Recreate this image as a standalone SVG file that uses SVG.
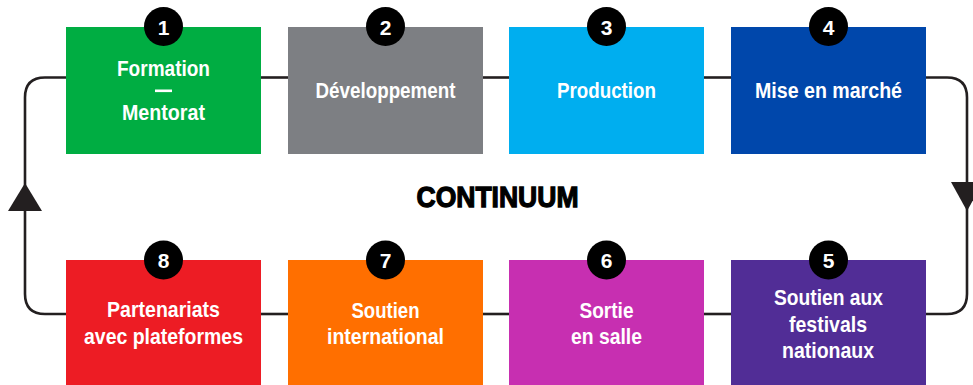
<svg xmlns="http://www.w3.org/2000/svg" width="973" height="385" viewBox="0 0 973 385">
<style>
.lbl{font-family:"Liberation Sans",Arial,sans-serif;font-weight:bold;font-size:22px;fill:#ffffff;text-anchor:middle}
.num{font-family:"Liberation Sans",Arial,sans-serif;font-weight:bold;font-size:21px;fill:#ffffff;text-anchor:middle}
.badge{fill:#000000}
.conn{fill:none;stroke:#231f20;stroke-width:2.6}
.head{fill:#231f20}
.title{font-family:"Liberation Sans",Arial,sans-serif;font-weight:bold;font-size:30px;fill:#000000;stroke:#000000;stroke-width:1.3;text-anchor:middle}
</style>
<rect width="973" height="385" fill="#ffffff"/>
<g id="connectors">
<path class="conn" d="M261 77.5 H288"/>
<path class="conn" d="M483 77.5 H509"/>
<path class="conn" d="M704 77.5 H731"/>
<path class="conn" d="M926 77.5 H947 Q967 77.5 967 97.5 V294 Q967 314 947 314 H926"/>
<path class="conn" d="M731 314 H704"/>
<path class="conn" d="M509 314 H483"/>
<path class="conn" d="M288 314 H261"/>
<path class="conn" d="M66 314 H45 Q25 314 25 294 V97.5 Q25 77.5 45 77.5 H66"/>
<polygon class="head" points="951,182 983,182 967,211"/>
<polygon class="head" points="25,183 42,211 8,211"/>
</g>
<g id="node1">
<rect x="66" y="27" width="195" height="127" fill="#00ad42"/>
<circle class="badge" cx="163.5" cy="26.5" r="19.5"/>
<text class="num" x="163.5" y="34.5">1</text>
<text class="lbl" x="163.5" y="76" textLength="93" lengthAdjust="spacingAndGlyphs">Formation</text>
<rect x="155" y="89.5" width="17" height="2.6" fill="#ffffff"/>
<text class="lbl" x="163.5" y="119.5" textLength="83" lengthAdjust="spacingAndGlyphs">Mentorat</text>
</g>
<g id="node2">
<rect x="288" y="27" width="195" height="127" fill="#7d7f83"/>
<circle class="badge" cx="385.5" cy="26.5" r="19.5"/>
<text class="num" x="385.5" y="34.5">2</text>
<text class="lbl" x="385.5" y="97.5" textLength="140" lengthAdjust="spacingAndGlyphs">Développement</text>
</g>
<g id="node3">
<rect x="509" y="27" width="195" height="127" fill="#00aeef"/>
<circle class="badge" cx="606.5" cy="26.5" r="19.5"/>
<text class="num" x="606.5" y="34.5">3</text>
<text class="lbl" x="606.5" y="97.5" textLength="99" lengthAdjust="spacingAndGlyphs">Production</text>
</g>
<g id="node4">
<rect x="731" y="27" width="195" height="127" fill="#0047ab"/>
<circle class="badge" cx="828.5" cy="26.5" r="19.5"/>
<text class="num" x="828.5" y="34.5">4</text>
<text class="lbl" x="828.5" y="97.5" textLength="147" lengthAdjust="spacingAndGlyphs">Mise en marché</text>
</g>
<g id="node5">
<rect x="731" y="260" width="195" height="125" fill="#512d96"/>
<circle class="badge" cx="828.5" cy="260" r="19.5"/>
<text class="num" x="828.5" y="268">5</text>
<text class="lbl" x="828.5" y="304.5" textLength="109" lengthAdjust="spacingAndGlyphs">Soutien aux</text>
<text class="lbl" x="828" y="331.5" textLength="78" lengthAdjust="spacingAndGlyphs">festivals</text>
<text class="lbl" x="828" y="357.5" textLength="92" lengthAdjust="spacingAndGlyphs">nationaux</text>
</g>
<g id="node6">
<rect x="509" y="260" width="195" height="125" fill="#c72fb1"/>
<circle class="badge" cx="606.5" cy="260" r="19.5"/>
<text class="num" x="606.5" y="268">6</text>
<text class="lbl" x="606.5" y="317.5" textLength="54" lengthAdjust="spacingAndGlyphs">Sortie</text>
<text class="lbl" x="606.5" y="344" textLength="71" lengthAdjust="spacingAndGlyphs">en salle</text>
</g>
<g id="node7">
<rect x="288" y="260" width="195" height="125" fill="#ff6f00"/>
<circle class="badge" cx="385.5" cy="260" r="19.5"/>
<text class="num" x="385.5" y="268">7</text>
<text class="lbl" x="385.5" y="317.5" textLength="68" lengthAdjust="spacingAndGlyphs">Soutien</text>
<text class="lbl" x="385.5" y="344" textLength="117" lengthAdjust="spacingAndGlyphs">international</text>
</g>
<g id="node8">
<rect x="66" y="260" width="195" height="125" fill="#ed1c24"/>
<circle class="badge" cx="163.5" cy="260" r="19.5"/>
<text class="num" x="163.5" y="268">8</text>
<text class="lbl" x="163.5" y="317" textLength="113" lengthAdjust="spacingAndGlyphs">Partenariats</text>
<text class="lbl" x="163.5" y="344" textLength="159" lengthAdjust="spacingAndGlyphs">avec plateformes</text>
</g>
<g id="title">
<text class="title" x="497.5" y="207" textLength="162" lengthAdjust="spacingAndGlyphs">CONTINUUM</text>
</g>
</svg>
